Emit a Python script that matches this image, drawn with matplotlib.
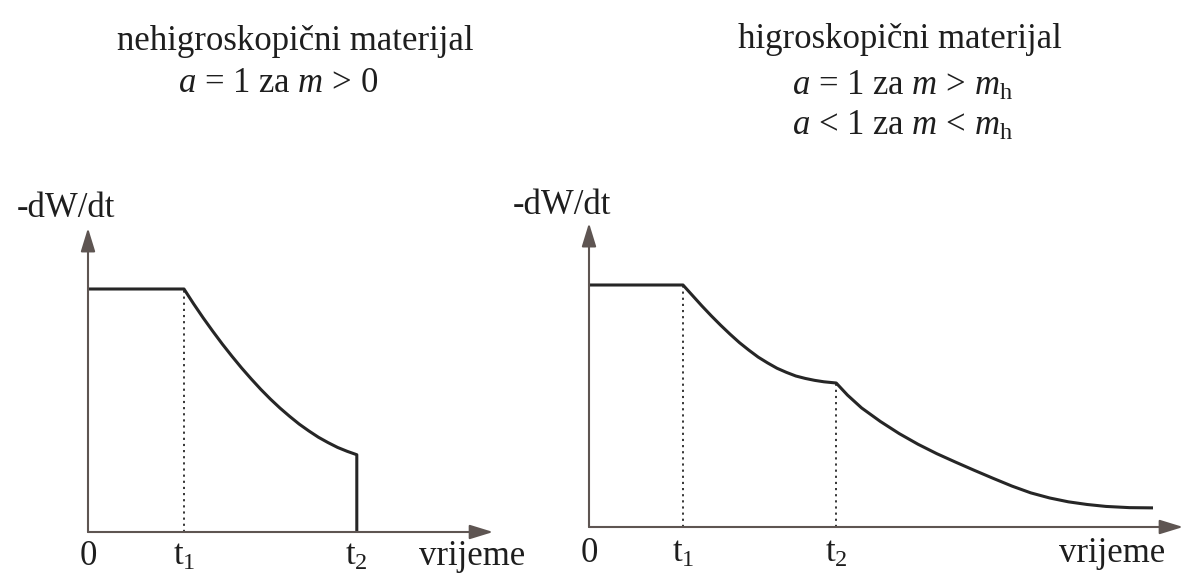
import matplotlib
matplotlib.use("Agg")
import matplotlib.pyplot as plt

plt.rcParams['font.family'] = ['Liberation Serif', 'DejaVu Serif']
plt.rcParams['mathtext.fontset'] = 'custom'
plt.rcParams['mathtext.rm'] = 'Liberation Serif'
plt.rcParams['mathtext.it'] = 'Liberation Serif:italic'

# ---- data (arbitrary units: t1 = 1, plateau rate = 1) ----
left_t = [0.0, 1.0, 1.1, 1.2, 1.3, 1.4, 1.5, 1.6, 1.7, 1.8, 1.9, 2.0,
          2.1, 2.2, 2.3, 2.4, 2.5, 2.6, 2.7, 2.8, 2.8]
left_rate = [1.0, 1.0, 0.939, 0.881, 0.826, 0.773, 0.723, 0.675, 0.630, 0.587,
             0.547, 0.510, 0.476, 0.444, 0.416, 0.390, 0.368, 0.348, 0.332,
             0.318, 0.0]
left_marks = [1.0]            # dotted guide at t1
left_mark_levels = [1.0]
left_ticks = [0.0, 1.0, 2.8]
left_ticklabels = ['0', r'$\mathrm{t}_{1}$', r'$\mathrm{t}_{2}$']

right_t = [0.0, 1.0, 1.1, 1.2, 1.3, 1.4, 1.5, 1.6, 1.7, 1.8, 1.9, 2.0, 2.1,
           2.2, 2.3, 2.4, 2.5, 2.63,
           2.75, 2.9, 3.1, 3.3, 3.5, 3.7, 3.9, 4.1, 4.3, 4.5, 4.7, 4.9, 5.1,
           5.3, 5.5, 5.75, 6.0]
right_rate = [1.0, 1.0, 0.957, 0.914, 0.873, 0.834, 0.797, 0.762, 0.731, 0.702,
              0.678, 0.656, 0.639, 0.624, 0.614, 0.606, 0.600, 0.595,
              0.545, 0.492, 0.436, 0.386, 0.342, 0.303, 0.268, 0.234, 0.201,
              0.169, 0.141, 0.120, 0.104, 0.093, 0.085, 0.080, 0.079]
right_marks = [1.0, 2.63]
right_mark_levels = [1.0, 0.595]
right_ticks = [0.0, 1.0, 2.63]
right_ticklabels = ['0', r'$\mathrm{t}_{1}$', r'$\mathrm{t}_{2}$']

ylabel = '-dW/dt'
xlabel = 'vrijeme'
left_title = ['nehigroskopični materijal', r'$a$ = 1 za $m$ > 0']
right_title = ['higroskopični materijal', r'$a$ = 1 za $m$ > $m_{\mathrm{h}}$',
               r'$a$ < 1 za $m$ < $m_{\mathrm{h}}$']

W, H = 1184, 575
fig = plt.figure(figsize=(W / 100, H / 100), dpi=100)
fig.patch.set_facecolor('white')

LINE = '#262626'
AX = '#3a3433'
HEAD = '#5e5552'
TXT = '#1e1e1e'
FS = 25


def make_axes(ox, oy, ux, uy, xmax, ymax):
    # ox, oy: origin pixel (image coords, y down); ux, uy: pixels per unit
    ax = fig.add_axes([ox / W, (H - oy) / H, xmax * ux / W, ymax * uy / H])
    ax.set_xlim(0, xmax)
    ax.set_ylim(0, ymax)
    ax.axis('off')
    return ax


def draw_panel(ax, t, rate, marks, levels, ticks, ticklabels, x_end, y_end,
               lab_y, xl_x, yl_x, yl_y):
    arrow = dict(arrowstyle='-|>,head_length=0.65,head_width=0.2', lw=1.5,
                 color=AX, fc=HEAD, ec=HEAD, mutation_scale=22,
                 shrinkA=0, shrinkB=0)
    ax.annotate('', xy=(x_end, 0), xytext=(0, 0), arrowprops=arrow,
                annotation_clip=False)
    ax.annotate('', xy=(0, y_end), xytext=(0, 0), arrowprops=arrow,
                annotation_clip=False)
    for m, lv in zip(marks, levels):
        ax.plot([m, m], [0, lv], color=LINE, lw=1.3, ls=(0, (1.2, 2.2)),
                clip_on=False)
    ax.plot(t, rate, color=LINE, lw=2.2, solid_joinstyle='round',
            solid_capstyle='butt', clip_on=False)
    for x, s in zip(ticks, ticklabels):
        ax.text(x, lab_y, s, ha='center', va='center', fontsize=FS, color=TXT)
    ax.text(xl_x, lab_y, xlabel, ha='center', va='center', fontsize=FS, color=TXT)
    ax.text(yl_x, yl_y, ylabel, ha='center', va='center', fontsize=FS, color=TXT)


axL = make_axes(88, 532, 96, 243, 4.4, 1.35)
draw_panel(axL, left_t, left_rate, left_marks, left_mark_levels, left_ticks,
           left_ticklabels, 4.22, 1.251, -0.1, 4.0, -0.224, 1.33)

axR = make_axes(589, 527, 94, 242, 6.5, 1.35)
draw_panel(axR, right_t, right_rate, right_marks, right_mark_levels, right_ticks,
           right_ticklabels, 6.32, 1.256, -0.11, 5.56, -0.29, 1.33)

# titles
fig.text(295 / W, 1 - 42 / H, left_title[0], ha='center', va='center', fontsize=FS, color=TXT)
fig.text(278 / W, 1 - 84 / H, left_title[1], ha='center', va='center', fontsize=FS, color=TXT)
fig.text(900 / W, 1 - 40 / H, right_title[0], ha='center', va='center', fontsize=FS, color=TXT)
fig.text(902 / W, 1 - 86 / H, right_title[1], ha='center', va='center', fontsize=FS, color=TXT)
fig.text(902 / W, 1 - 126 / H, right_title[2], ha='center', va='center', fontsize=FS, color=TXT)

fig.savefig('out.png', dpi=100, facecolor='white')
